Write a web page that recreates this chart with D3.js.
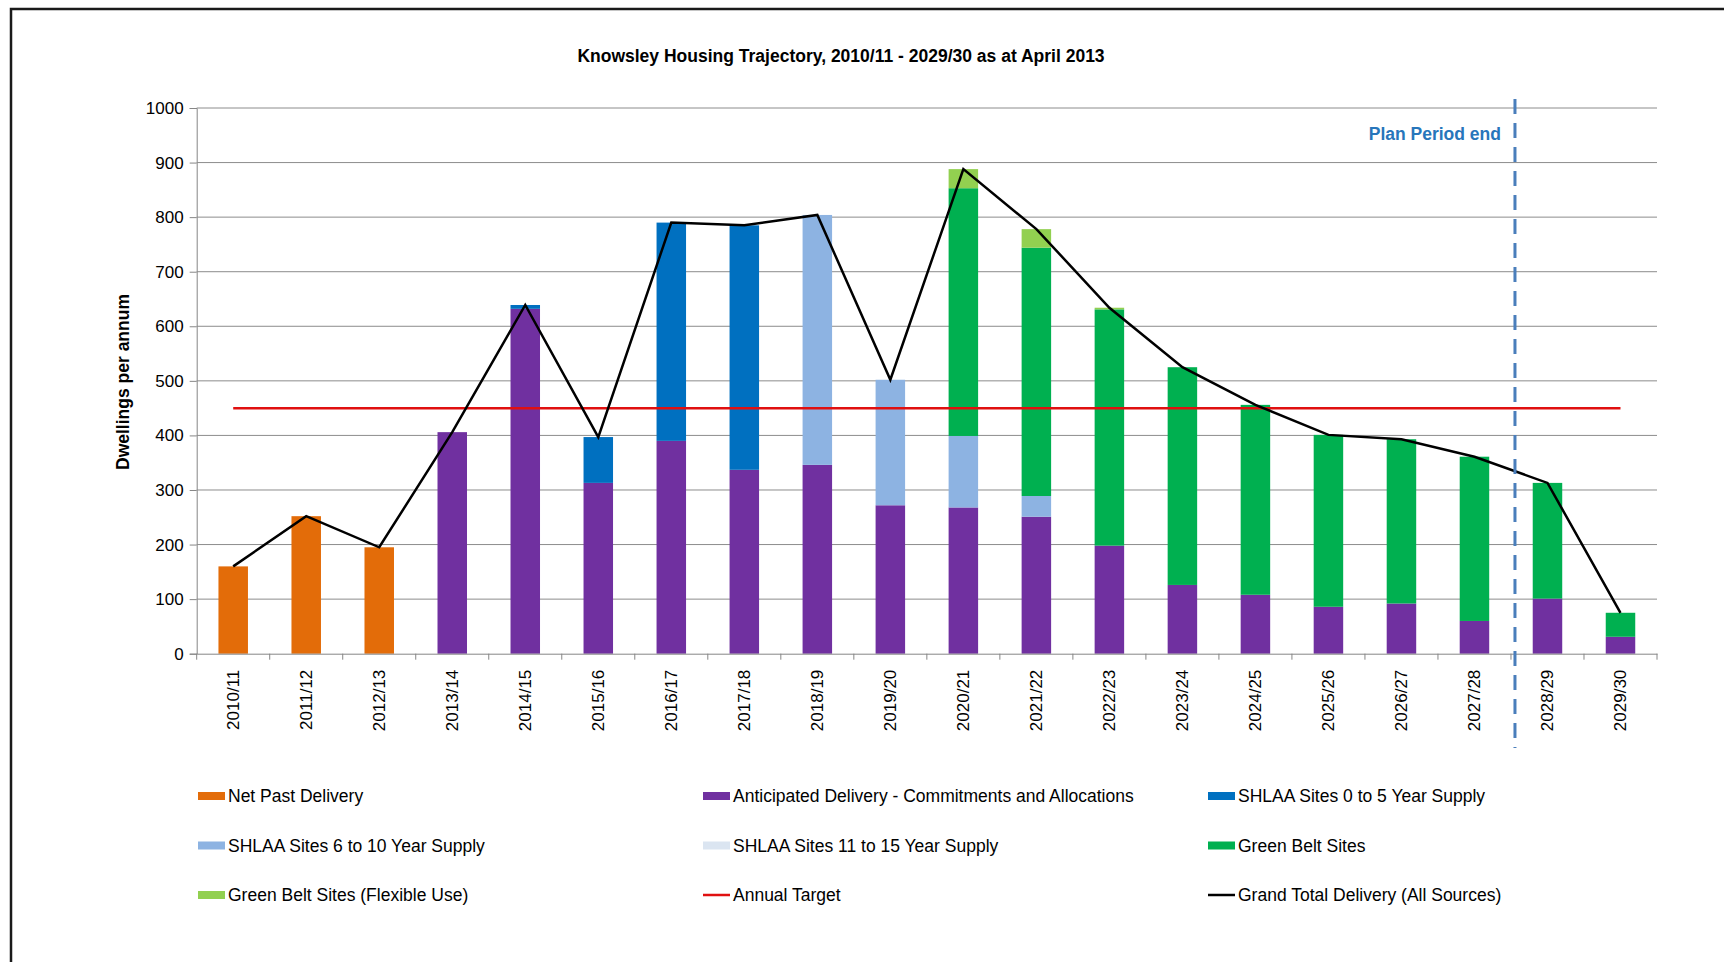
<!DOCTYPE html>
<html>
<head>
<meta charset="utf-8">
<script src="https://cdn.jsdelivr.net/npm/d3@7/dist/d3.min.js"></script>
<style>
  html, body { margin: 0; padding: 0; background: #fff; }
  svg { display: block; font-family: "Liberation Sans", Arial, sans-serif; }
</style>
</head>
<body>
<svg id="chart" width="1724" height="962"></svg>
<script>
// Financial years on the x axis
const years = ["2010/11","2011/12","2012/13","2013/14","2014/15","2015/16","2016/17","2017/18","2018/19","2019/20",
               "2020/21","2021/22","2022/23","2023/24","2024/25","2025/26","2026/27","2027/28","2028/29","2029/30"];

// Dwellings per annum by source
const netPastDelivery   = [160, 252, 195,   0,   0,   0,   0,   0,   0,   0,   0,   0,   0,   0,   0,   0,   0,   0,   0,   0];
const anticipated       = [  0,   0,   0, 406, 632, 313, 390, 337, 346, 272, 268, 251, 198, 126, 108,  86,  92,  60, 101,  31];
const shlaa0to5         = [  0,   0,   0,   0,   7,  84, 400, 448,   0,   0,   0,   0,   0,   0,   0,   0,   0,   0,   0,   0];
const shlaa6to10        = [  0,   0,   0,   0,   0,   0,   0,   0, 458, 230, 131,  38,   0,   0,   0,   0,   0,   0,   0,   0];
const shlaa11to15       = [  0,   0,   0,   0,   0,   0,   0,   0,   0,   0,   0,   0,   0,   0,   0,   0,   0,   0,   0,   0];
const greenBelt         = [  0,   0,   0,   0,   0,   0,   0,   0,   0,   0, 454, 455, 433, 399, 348, 315, 301, 301, 212,  44];
const greenBeltFlexible = [  0,   0,   0,   0,   0,   0,   0,   0,   0,   0,  35,  34,   3,   0,   0,   0,   0,   0,   0,   0];

// Line series
const annualTarget = [450, 450, 450, 450, 450, 450, 450, 450, 450, 450, 450, 450, 450, 450, 450, 450, 450, 450, 450, 450];
const grandTotal   = [160, 252, 195, 406, 639, 397, 790, 785, 804, 502, 888, 778, 634, 525, 456, 401, 393, 361, 313,  75];

const yTicks = [0, 100, 200, 300, 400, 500, 600, 700, 800, 900, 1000];
const planPeriodEndYear = "2028/29";

const barSeries = [
  { key: "past",  name: "Net Past Delivery", values: netPastDelivery, color: "#e36c09" },
  { key: "ant",   name: "Anticipated Delivery - Commitments and Allocations", values: anticipated, color: "#7030a0" },
  { key: "s05",   name: "SHLAA Sites 0 to 5 Year Supply", values: shlaa0to5, color: "#0070c0" },
  { key: "s610",  name: "SHLAA Sites 6 to 10 Year Supply", values: shlaa6to10, color: "#8db3e2" },
  { key: "s1115", name: "SHLAA Sites 11 to 15 Year Supply", values: shlaa11to15, color: "#dbe5f1" },
  { key: "gb",    name: "Green Belt Sites", values: greenBelt, color: "#00b050" },
  { key: "gbf",   name: "Green Belt Sites (Flexible Use)", values: greenBeltFlexible, color: "#92d050" }
];
const lineSeries = [
  { name: "Annual Target", values: annualTarget, color: "#e01010" },
  { name: "Grand Total Delivery (All Sources)", values: grandTotal, color: "#000000" }
];

const svg = d3.select("#chart");
const W = 1724, H = 962;
const plot = { left: 196.7, right: 1657, top: 108, bottom: 653.7 };

// Page frame
svg.append("rect").attr("x", 0).attr("y", 0).attr("width", W).attr("height", H).attr("fill", "#fff");
svg.append("path")
  .attr("d", `M11,${H} L11,9 L${W},9`)
  .attr("fill", "none").attr("stroke", "#1a1a1a").attr("stroke-width", 2.5);

const x = d3.scaleBand().domain(years).range([plot.left, plot.right]).paddingInner(0).paddingOuter(0);
const y = d3.scaleLinear().domain([0, 1000]).range([plot.bottom, plot.top]);
const barW = 29.5;

// Title
svg.append("text")
  .attr("x", 841).attr("y", 62)
  .attr("text-anchor", "middle")
  .attr("font-size", 17.5).attr("font-weight", "bold").attr("fill", "#000")
  .text("Knowsley Housing Trajectory, 2010/11 - 2029/30 as at April 2013");

// Gridlines and y axis
const yAxis = d3.axisLeft(y).tickValues(yTicks).tickFormat(d3.format("d")).tickSize(7).tickPadding(6);
const gy = svg.append("g").attr("transform", `translate(${plot.left},0)`).call(yAxis);
gy.select(".domain").attr("stroke", "#868686");
gy.selectAll(".tick line").attr("stroke", "#868686");
gy.selectAll(".tick text").attr("font-size", 17).attr("fill", "#000").attr("font-family", "Liberation Sans, Arial, sans-serif");

svg.append("g").selectAll("line").data(yTicks.filter(t => t > 0)).join("line")
  .attr("x1", plot.left).attr("x2", plot.right)
  .attr("y1", d => y(d)).attr("y2", d => y(d))
  .attr("stroke", "#8c8c8c").attr("stroke-width", 1);

// Stacked bars
const rows = years.map((yr, i) => {
  const r = { year: yr };
  barSeries.forEach(s => { r[s.key] = s.values[i]; });
  return r;
});
const stacked = d3.stack().keys(barSeries.map(s => s.key))(rows);
const barsG = svg.append("g");
stacked.forEach((layer, li) => {
  barsG.append("g").attr("fill", barSeries[li].color)
    .selectAll("rect").data(layer.filter(d => d[1] - d[0] > 0)).join("rect")
    .attr("x", d => x(d.data.year) + (x.bandwidth() - barW) / 2)
    .attr("width", barW)
    .attr("y", d => y(d[1]))
    .attr("height", d => y(d[0]) - y(d[1]));
});

// x axis
const xAxis = d3.axisBottom(x).tickSize(0).tickFormat(d => d);
const gx = svg.append("g").attr("transform", `translate(0,${plot.bottom})`).call(xAxis);
gx.select(".domain").attr("stroke", "#868686");
gx.selectAll(".tick text")
  .attr("font-size", 17).attr("fill", "#000").attr("font-family", "Liberation Sans, Arial, sans-serif")
  .attr("text-anchor", "end")
  .attr("transform", "rotate(-90)")
  .attr("x", -16).attr("y", 0).attr("dy", "0.35em");
// tick marks at category boundaries
svg.append("g").selectAll("line").data(years.concat(["end"])).join("line")
  .attr("x1", (d, i) => plot.left + i * x.bandwidth())
  .attr("x2", (d, i) => plot.left + i * x.bandwidth())
  .attr("y1", plot.bottom).attr("y2", plot.bottom + 6)
  .attr("stroke", "#868686");

// Lines: annual target and grand total
const lineGen = d3.line().x(d => x(d.year) + x.bandwidth() / 2).y(d => y(d.v));
lineSeries.forEach(s => {
  svg.append("path")
    .datum(years.map((yr, i) => ({ year: yr, v: s.values[i] })))
    .attr("d", lineGen)
    .attr("fill", "none")
    .attr("stroke", s.color)
    .attr("stroke-width", 2.5)
    .attr("stroke-linejoin", "miter");
});

// Plan period end marker
const endX = x(planPeriodEndYear) + 4;
svg.append("line")
  .attr("x1", endX).attr("x2", endX)
  .attr("y1", 99).attr("y2", 748)
  .attr("stroke", "#4a7ebb").attr("stroke-width", 3)
  .attr("stroke-dasharray", "15 9");
svg.append("text")
  .attr("x", endX - 14).attr("y", 140)
  .attr("text-anchor", "end")
  .attr("font-size", 17.5).attr("font-weight", "bold").attr("fill", "#2776bb")
  .text("Plan Period end");

// Y axis title
svg.append("text")
  .attr("transform", "translate(129,382) rotate(-90)")
  .attr("text-anchor", "middle")
  .attr("font-size", 17.5).attr("font-weight", "bold").attr("fill", "#000")
  .text("Dwellings per annum");

// Legend
const legendItems = [
  { name: barSeries[0].name, color: barSeries[0].color, type: "bar" },
  { name: barSeries[1].name, color: barSeries[1].color, type: "bar" },
  { name: barSeries[2].name, color: barSeries[2].color, type: "bar" },
  { name: barSeries[3].name, color: barSeries[3].color, type: "bar" },
  { name: barSeries[4].name, color: barSeries[4].color, type: "bar" },
  { name: barSeries[5].name, color: barSeries[5].color, type: "bar" },
  { name: barSeries[6].name, color: barSeries[6].color, type: "bar" },
  { name: lineSeries[0].name, color: lineSeries[0].color, type: "line" },
  { name: lineSeries[1].name, color: lineSeries[1].color, type: "line" }
];
const colX = [198, 703, 1208];
const rowY = [796, 845.5, 895];
const lg = svg.append("g").selectAll("g").data(legendItems).join("g")
  .attr("transform", (d, i) => `translate(${colX[i % 3]},${rowY[Math.floor(i / 3)]})`);
lg.filter(d => d.type === "bar").append("rect")
  .attr("x", 0).attr("y", -4).attr("width", 27).attr("height", 8).attr("fill", d => d.color);
lg.filter(d => d.type === "line").append("line")
  .attr("x1", 0).attr("x2", 27).attr("y1", 0).attr("y2", 0)
  .attr("stroke", d => d.color).attr("stroke-width", 2.5);
lg.append("text")
  .attr("x", 30).attr("y", 0).attr("dy", "0.35em")
  .attr("font-size", 17.5).attr("fill", "#000")
  .text(d => d.name);
</script>
</body>
</html>
